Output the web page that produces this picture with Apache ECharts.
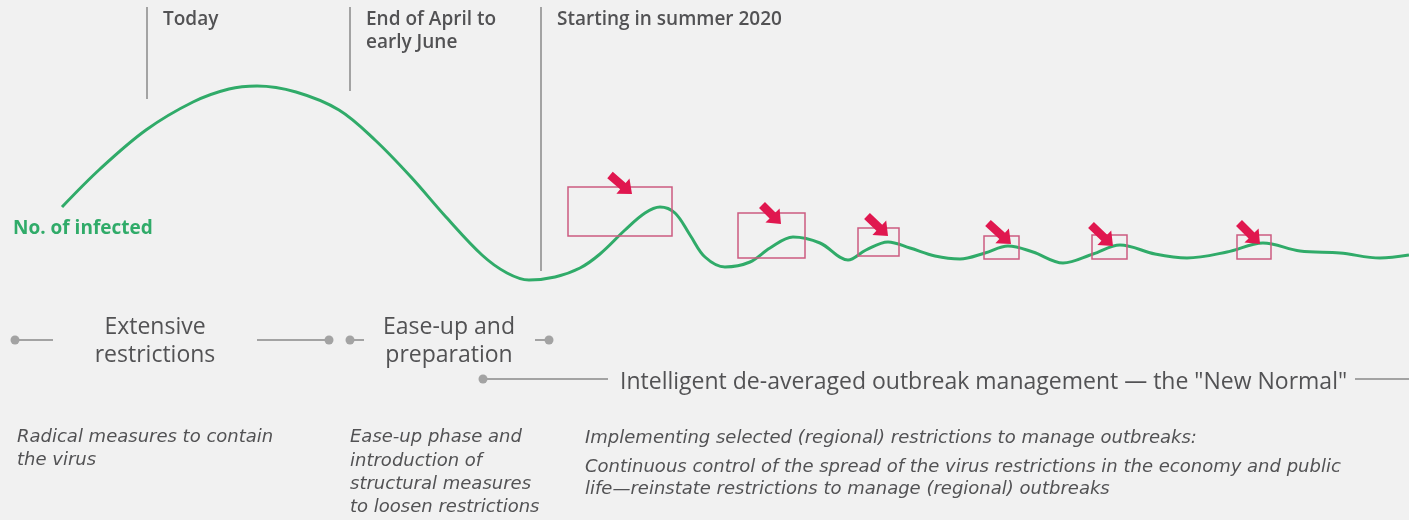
<!DOCTYPE html>
<html>
<head>
<meta charset="utf-8">
<script src="https://cdn.jsdelivr.net/npm/echarts@6/dist/echarts.min.js"></script>
<style>
html,body{margin:0;padding:0;background:#f1f1f1;}
#c{width:1409px;height:520px;}
</style>
</head>
<body>
<div id="c"></div>
<script>
// ---- data (chart units: x = time, y = level, top-down) ----
var curveX = [62,100,146,193,229,257,296,339,375,411,446,482,507,529,555,580,600,625,645,660,675,690,705,725,750,770,793,820,848,866,888,910,935,960,985,1008,1033,1063,1093,1120,1155,1187,1227,1263,1300,1340,1380,1409];
var curveY = [207,169,130,102,89,86,92,110,140,177,217,255,273,280,277,268,254,230,213,207,213,235,257,267,262,248,237,243,260,250,242,248,256,259,253,246,252,263,254,245,254,258,252,243,251,253,258,255];

var milestoneX = [147, 350, 541];
var milestoneTop = [7, 7, 7];
var milestoneBottom = [99, 91, 271];
var milestoneLabels = ['Today', 'End of April to\nearly June', 'Starting in summer 2020'];

var boxX0 = [568, 738, 858, 984, 1092, 1237];
var boxX1 = [672, 805, 899, 1019, 1127, 1271];
var boxY0 = [187, 213, 228, 236, 235, 235];
var boxY1 = [236, 258, 256, 259, 259, 259];

var arrowTailX = [610, 762, 867, 988, 1091, 1239];
var arrowTailY = [175, 205, 216, 223, 225, 223];
var arrowHeadX = [632, 781, 888, 1011, 1113, 1260];
var arrowHeadY = [194, 224, 236, 244, 246, 244];

var phaseStart = [15, 257, 350, 535, 483, 1355];
var phaseEnd   = [53, 329, 364, 549, 608, 1409];
var phaseRow   = [340, 340, 340, 340, 379, 379];
var phaseDotStart = [1, 0, 1, 0, 1, 0];
var phaseDotEnd   = [0, 1, 0, 1, 0, 0];

var phaseLabels = ['Extensive\nrestrictions', 'Ease-up and\npreparation', 'Intelligent de-averaged outbreak management \u2014 the "New Normal"'];
var descriptions = [
  'Radical measures to contain\nthe virus',
  'Ease-up phase and\nintroduction of\nstructural measures\nto loosen restrictions',
  'Implementing selected (regional) restrictions to manage outbreaks:',
  'Continuous control of the spread of the virus restrictions in the economy and public\nlife\u2014reinstate restrictions to manage (regional) outbreaks'
];
var curveLabel = 'No. of infected';

// ---- build ----
var GREEN = '#30ab69', GREY_TXT = '#525254', GREY_LINE = '#a3a3a3', PINK = '#cc5b80', RED = '#e0174f';
var HEAD_FONT = '"Open Sans", sans-serif';
var DESC_FONT = '"DejaVu Sans", sans-serif';

var curveData = curveX.map(function (x, i) { return [x, curveY[i]]; });
var msData = milestoneX.map(function (x, i) { return [x, milestoneTop[i], milestoneBottom[i], i]; });
var boxData = boxX0.map(function (x, i) { return [x, boxY0[i], boxX1[i], boxY1[i]]; });
var arrowData = arrowTailX.map(function (x, i) { return [x, arrowTailY[i], arrowHeadX[i], arrowHeadY[i]]; });
var phaseData = phaseStart.map(function (x, i) { return [x, phaseRow[i], phaseEnd[i], phaseDotStart[i], phaseDotEnd[i]]; });

var chart = echarts.init(document.getElementById('c'));
chart.setOption({
  backgroundColor: '#f1f1f1',
  animation: false,
  grid: { left: 0, right: 0, top: 0, bottom: 0 },
  xAxis: { type: 'value', min: 0, max: 1409, show: false },
  yAxis: { type: 'value', min: 0, max: 520, inverse: true, show: false },
  series: [
    {
      type: 'custom', name: 'milestones', data: msData, z: 2,
      renderItem: function (params, api) {
        var p0 = api.coord([api.value(0), api.value(1)]);
        var p1 = api.coord([api.value(0), api.value(2)]);
        return { type: 'group', children: [
          { type: 'line', shape: { x1: p0[0], y1: p0[1], x2: p1[0], y2: p1[1] }, style: { stroke: GREY_LINE, lineWidth: 2 } },
          { type: 'text', style: { x: p0[0] + 16, y: p0[1] + 1, text: milestoneLabels[api.value(3)], fill: GREY_TXT,
              font: '600 19px ' + HEAD_FONT, lineHeight: 23, verticalAlign: 'top', align: 'left' } }
        ]};
      }
    },
    {
      type: 'line', name: 'infected', data: curveData, smooth: 0.35, showSymbol: false, z: 3,
      lineStyle: { color: GREEN, width: 3 }
    },
    {
      type: 'custom', name: 'boxes', data: boxData, z: 4,
      renderItem: function (params, api) {
        var a = api.coord([api.value(0), api.value(1)]);
        var b = api.coord([api.value(2), api.value(3)]);
        return { type: 'rect', shape: { x: a[0], y: a[1], width: b[0] - a[0], height: b[1] - a[1] },
          style: { fill: 'none', stroke: PINK, lineWidth: 1.5 } };
      }
    },
    {
      type: 'custom', name: 'arrows', data: arrowData, z: 5,
      renderItem: function (params, api) {
        var t = api.coord([api.value(0), api.value(1)]);
        var h = api.coord([api.value(2), api.value(3)]);
        var dx = h[0] - t[0], dy = h[1] - t[1];
        var L = Math.sqrt(dx * dx + dy * dy);
        var ux = dx / L, uy = dy / L, nx = -uy, ny = ux;
        var sw = 4.2, hw = 10, hl = 12;
        var bx = h[0] - ux * hl, by = h[1] - uy * hl;
        var pts = [
          [t[0] + nx * sw, t[1] + ny * sw],
          [bx + nx * sw, by + ny * sw],
          [bx + nx * hw, by + ny * hw],
          [h[0], h[1]],
          [bx - nx * hw, by - ny * hw],
          [bx - nx * sw, by - ny * sw],
          [t[0] - nx * sw, t[1] - ny * sw]
        ];
        return { type: 'polygon', shape: { points: pts }, style: { fill: RED } };
      }
    },
    {
      type: 'custom', name: 'phases', data: phaseData, z: 2,
      renderItem: function (params, api) {
        var a = api.coord([api.value(0), api.value(1)]);
        var b = api.coord([api.value(2), api.value(1)]);
        var ch = [{ type: 'line', shape: { x1: a[0], y1: a[1], x2: b[0], y2: b[1] }, style: { stroke: GREY_LINE, lineWidth: 2 } }];
        if (api.value(3)) ch.push({ type: 'circle', shape: { cx: a[0], cy: a[1], r: 4.5 }, style: { fill: GREY_LINE } });
        if (api.value(4)) ch.push({ type: 'circle', shape: { cx: b[0], cy: b[1], r: 4.5 }, style: { fill: GREY_LINE } });
        return { type: 'group', children: ch };
      }
    }
  ],
  graphic: [
    { type: 'text', x: 13, y: 229, style: { text: curveLabel, fill: GREEN, font: '700 19px ' + HEAD_FONT, verticalAlign: 'middle' } },
    { type: 'text', x: 155, y: 313, style: { text: phaseLabels[0], fill: GREY_TXT, font: '400 23px ' + HEAD_FONT, lineHeight: 28, align: 'center', verticalAlign: 'top' } },
    { type: 'text', x: 449, y: 313, style: { text: phaseLabels[1], fill: GREY_TXT, font: '400 23px ' + HEAD_FONT, lineHeight: 28, align: 'center', verticalAlign: 'top' } },
    { type: 'text', x: 620, y: 382, style: { text: phaseLabels[2], fill: GREY_TXT, font: '400 23px ' + HEAD_FONT, align: 'left', verticalAlign: 'middle' } },
    { type: 'text', x: 17, y: 426, style: { text: descriptions[0], fill: GREY_TXT, font: 'italic 18px ' + DESC_FONT, lineHeight: 23, verticalAlign: 'top' } },
    { type: 'text', x: 350, y: 426, style: { text: descriptions[1], fill: GREY_TXT, font: 'italic 18px ' + DESC_FONT, lineHeight: 23.3, verticalAlign: 'top' } },
    { type: 'text', x: 585, y: 427, style: { text: descriptions[2], fill: GREY_TXT, font: 'italic 18px ' + DESC_FONT, lineHeight: 22, verticalAlign: 'top' } },
    { type: 'text', x: 585, y: 456, style: { text: descriptions[3], fill: GREY_TXT, font: 'italic 18px ' + DESC_FONT, lineHeight: 22, verticalAlign: 'top' } }
  ]
});
</script>
</body>
</html>
